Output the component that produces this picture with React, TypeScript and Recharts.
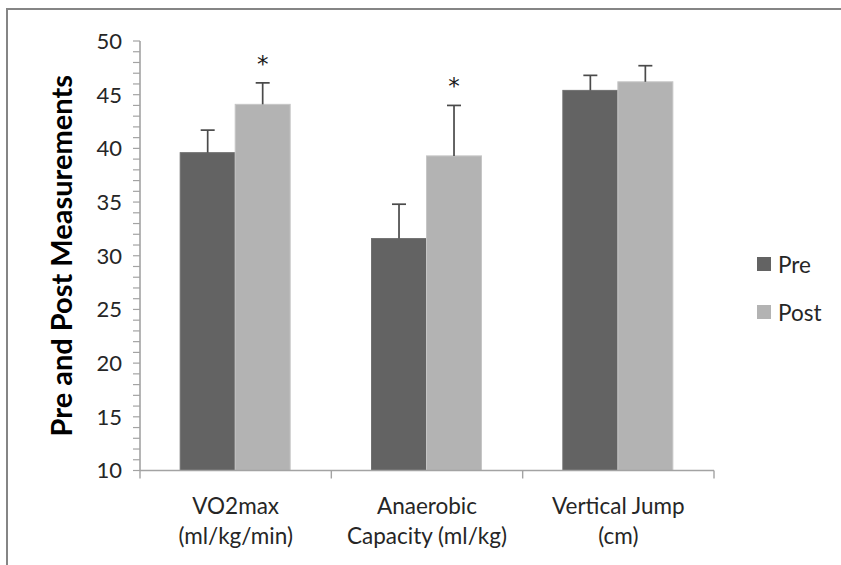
import React from 'react';
import { BarChart, Bar, XAxis, YAxis, Legend, Label } from 'recharts';

const categoryLine1 = ['VO2max', 'Anaerobic', 'Vertical Jump'];
const categoryLine2 = ['(ml/kg/min)', 'Capacity (ml/kg)', '(cm)'];
const seriesNames = ['Pre', 'Post'];
const preValues = [39.6, 31.6, 45.4];
const postValues = [44.1, 39.3, 46.2];
const preErrors = [2.1, 3.2, 1.4];
const postErrors = [2.0, 4.7, 1.5];
const postSignificant = [true, true, false];
const yMajorTicks = [10, 15, 20, 25, 30, 35, 40, 45, 50];

const Y_MIN = yMajorTicks[0];
const Y_MAX = yMajorTicks[yMajorTicks.length - 1];
const yAllTicks: number[] = [];
for (let v = Y_MIN; v <= Y_MAX; v += 1) yAllTicks.push(v);

const data = categoryLine1.map((c, i) => ({
  name: c,
  sub: categoryLine2[i],
  pre: preValues[i],
  post: postValues[i],
  preErr: preErrors[i],
  postErr: postErrors[i],
  sig: postSignificant[i],
}));

const FONT = 'Lato, "Open Sans", sans-serif';
const AXIS = '#a3a3a3';
const TEXT = '#262626';
const ERR = '#4a4a4a';

const W = 841;
const H = 565;
const MARGIN = { top: 41, right: 127, bottom: 0, left: 0 };
const Y_AXIS_W = 140;
const X_AXIS_H = 94.5;
const BAND = (W - MARGIN.right - MARGIN.left - Y_AXIS_W) / categoryLine1.length;

const makeShape = (errKey: string, sigKey?: string) => (props: any) => {
  const { x, y, width, height, fill, stroke, payload, value } = props;
  const v = Array.isArray(value) ? value[1] - value[0] : value - Y_MIN;
  const pxPerUnit = v > 0 ? height / v : 0;
  const err = payload[errKey];
  const cx = x + width / 2;
  const top = y - err * pxPerUnit;
  const sig = sigKey ? payload[sigKey] : false;
  return (
    <g>
      <rect x={x} y={y} width={width} height={height} fill={fill} stroke={stroke} strokeWidth={1} />
      <line x1={cx} y1={y} x2={cx} y2={top} stroke={ERR} strokeWidth={1.7} />
      <line x1={cx - 7} y1={top} x2={cx + 7} y2={top} stroke={ERR} strokeWidth={1.7} />
      {sig && (
        <text
          x={cx}
          y={top - 11}
          textAnchor="middle"
          fontFamily='"DejaVu Sans", sans-serif'
          fontSize={23}
          fill="#1a1a1a"
        >
          *
        </text>
      )}
    </g>
  );
};

const XTick = (props: any) => {
  const { x, y, payload, index } = props;
  const i = payload && payload.index !== undefined ? payload.index : index;
  const half = payload && payload.offset ? payload.offset : BAND / 2;
  const last = i === categoryLine1.length - 1;
  return (
    <g>
      <line x1={x - half} y1={y} x2={x - half} y2={y + 8} stroke={AXIS} strokeWidth={1.4} />
      {last && <line x1={x + half} y1={y} x2={x + half} y2={y + 8} stroke={AXIS} strokeWidth={1.4} />}
      <text x={x} y={y + 43} textAnchor="middle" fontFamily={FONT} fontSize={22.5} fill={TEXT}>
        {categoryLine1[i]}
      </text>
      <text x={x} y={y + 73} textAnchor="middle" fontFamily={FONT} fontSize={22.5} fill={TEXT}>
        {categoryLine2[i]}
      </text>
    </g>
  );
};

const YTick = (props: any) => {
  const { x, y, payload } = props;
  if (!yMajorTicks.includes(payload.value)) return <g />;
  return (
    <text x={x} y={y} dy="0.36em" textAnchor="end" fontFamily={FONT} fontSize={22} fill={TEXT}>
      {payload.value}
    </text>
  );
};

const LegendContent = (props: any) => {
  const items = [...(props.payload || [])].sort(
    (a: any, b: any) => seriesNames.indexOf(a.value) - seriesNames.indexOf(b.value)
  );
  return (
    <div style={{ fontFamily: FONT, fontSize: 22.5, color: TEXT }}>
      {items.map((p: any) => (
        <div key={p.value} style={{ display: 'flex', alignItems: 'center', height: 48 }}>
          <span style={{ display: 'inline-block', width: 14, height: 14, background: p.color, marginRight: 7 }} />
          <span>{p.value}</span>
        </div>
      ))}
    </div>
  );
};

export default function App() {
  return (
    <div style={{ position: 'absolute', left: 0, top: 0, width: W, height: H, background: '#fff', overflow: 'hidden' }}>
      <div
        style={{
          position: 'absolute',
          left: 6,
          top: 8,
          width: W,
          height: H,
          borderLeft: '2px solid #858585',
          borderTop: '2.5px solid #858585',
        }}
      />
      <BarChart width={W} height={H} data={data} margin={MARGIN} barCategoryGap="21%" barGap={0}>
        <XAxis
          dataKey="name"
          height={X_AXIS_H}
          tickSize={0}
          tickMargin={0}
          tickLine={false}
          axisLine={{ stroke: AXIS, strokeWidth: 1.6 }}
          tick={<XTick />}
          interval={0}
        />
        <YAxis
          width={Y_AXIS_W}
          domain={[Y_MIN, Y_MAX]}
          ticks={yAllTicks}
          interval={0}
          allowDecimals={false}
          tickSize={7}
          tickMargin={11}
          tickLine={{ stroke: AXIS, strokeWidth: 1.2 }}
          axisLine={{ stroke: AXIS, strokeWidth: 1.6 }}
          tick={<YTick />}
        >
          <Label
            value="Pre and Post Measurements"
            angle={-90}
            position="insideLeft"
            offset={62}
            style={{ textAnchor: 'middle', fontFamily: FONT, fontWeight: 700, fontSize: 29, fill: '#000' }}
          />
        </YAxis>
        <Legend
          layout="vertical"
          align="center"
          verticalAlign="middle"
          wrapperStyle={{ left: 757, top: 240, width: 80 }}
          content={<LegendContent />}
        />
        <Bar
          dataKey="pre"
          name={seriesNames[0]}
          fill="#636363"
          stroke="#707070"
          isAnimationActive={false}
          shape={makeShape('preErr')}
        />
        <Bar
          dataKey="post"
          name={seriesNames[1]}
          fill="#b3b3b3"
          stroke="#c6c6c6"
          isAnimationActive={false}
          shape={makeShape('postErr', 'sig')}
        />
      </BarChart>
    </div>
  );
}
